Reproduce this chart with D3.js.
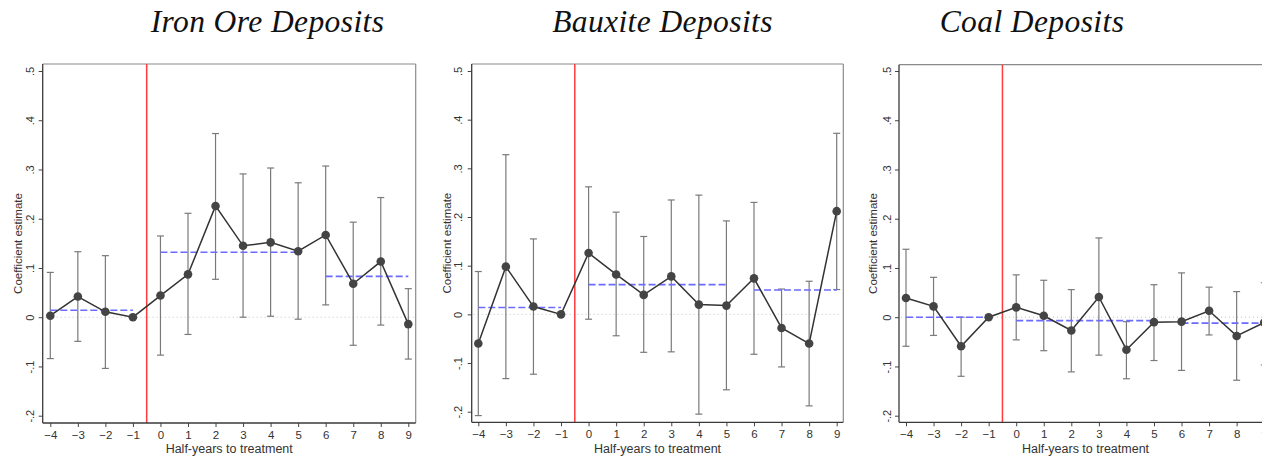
<!DOCTYPE html>
<html>
<head>
<meta charset="utf-8">
<script src="https://cdn.jsdelivr.net/npm/d3@7"></script>
<style>
  html, body { margin: 0; padding: 0; background: #fff; overflow: hidden; }
  svg { display: block; }
</style>
</head>
<body>
<svg id="chart" width="1262" height="459"></svg>
<script>
// ---- data ----
const periods = [-4, -3, -2, -1, 0, 1, 2, 3, 4, 5, 6, 7, 8, 9];
const yTickValues = [-0.2, -0.1, 0, 0.1, 0.2, 0.3, 0.4, 0.5];
const yTickLabels = ["-.2", "-.1", "0", ".1", ".2", ".3", ".4", ".5"];
const panelTitles = ["Iron Ore Deposits", "Bauxite Deposits", "Coal Deposits"];

const ironEst   = [0.003, 0.042, 0.011, 0, 0.044, 0.087, 0.226, 0.145, 0.152, 0.134, 0.167, 0.068, 0.113, -0.014];
const ironLo    = [-0.084, -0.049, -0.104, null, -0.077, -0.035, 0.077, 0.000, 0.002, -0.004, 0.025, -0.057, -0.016, -0.085];
const ironHi    = [0.091, 0.133, 0.125, null, 0.165, 0.211, 0.373, 0.291, 0.303, 0.273, 0.307, 0.193, 0.243, 0.058];
const ironAvg   = [0.014, 0.132, 0.083];

const bauxEst   = [-0.060, 0.098, 0.016, 0, 0.126, 0.082, 0.040, 0.078, 0.020, 0.018, 0.074, -0.028, -0.060, 0.212];
const bauxLo    = [-0.208, -0.132, -0.123, null, -0.010, -0.044, -0.078, -0.077, -0.205, -0.155, -0.082, -0.108, -0.188, 0.051];
const bauxHi    = [0.088, 0.328, 0.155, null, 0.262, 0.210, 0.160, 0.235, 0.245, 0.192, 0.230, 0.052, 0.068, 0.372];
const bauxAvg   = [0.014, 0.061, 0.050];

const coalEst   = [0.039, 0.022, -0.059, 0, 0.020, 0.003, -0.027, 0.041, -0.066, -0.010, -0.009, 0.013, -0.038, -0.011];
const coalLo    = [-0.059, -0.037, -0.120, null, -0.046, -0.068, -0.111, -0.077, -0.125, -0.088, -0.108, -0.036, -0.128, -0.097];
const coalHi    = [0.138, 0.081, 0.000, null, 0.086, 0.075, 0.056, 0.161, -0.009, 0.066, 0.090, 0.061, 0.052, 0.070];
const coalAvg   = [0.000, -0.007, -0.012];

// averaging windows for the dashed lines (period ranges)
const avgWindows = [[-4, -1], [0, 5], [6, 9]];
const treatmentLine = -0.5;

// ---- layout (pixels) ----
const layouts = [
  { left: 42.7, right: 415.7, top: 64, bottom: 423, xA: 50.3, xB: 408.3, yTopTick: 71, yBotTick: 415.7,
    titleX: 267.5, yLabelX: 18, yTickLabelX: 30 },
  { left: 471.7, right: 843.3, top: 64, bottom: 422.3, xA: 478.3, xB: 836.7, yTopTick: 71, yBotTick: 411.7,
    titleX: 662.5, yLabelX: 446.7, yTickLabelX: 458.3 },
  { left: 899, right: 1272, top: 64.7, bottom: 422.3, xA: 906, xB: 1264.2, yTopTick: 71, yBotTick: 415.7,
    titleX: 1032, yLabelX: 873, yTickLabelX: 886.7 }
];

const panels = [
  { title: panelTitles[0], est: ironEst, lo: ironLo, hi: ironHi, avg: ironAvg },
  { title: panelTitles[1], est: bauxEst, lo: bauxLo, hi: bauxHi, avg: bauxAvg },
  { title: panelTitles[2], est: coalEst, lo: coalLo, hi: coalHi, avg: coalAvg }
];

const svg = d3.select("#chart");
const sans = "'Liberation Sans', Arial, sans-serif";

panels.forEach((p, i) => {
  const L = layouts[i];
  const x = d3.scaleLinear().domain([-4, 9]).range([L.xA, L.xB]);
  const y = d3.scaleLinear().domain([-0.2, 0.5]).range([L.yBotTick, L.yTopTick]);
  const g = svg.append("g");

  // title
  g.append("text")
    .attr("x", L.titleX).attr("y", 32)
    .attr("text-anchor", "middle")
    .style("font-family", "'Liberation Serif', 'DejaVu Serif', serif")
    .style("font-style", "italic")
    .style("font-size", "31.5px")
    .style("letter-spacing", "0.4px")
    .style("fill", "#111")
    .text(p.title);

  // plot frame (top / right lighter)
  g.append("line").attr("x1", L.left).attr("x2", L.right).attr("y1", L.top).attr("y2", L.top)
    .attr("stroke", "#8a8a8a").attr("stroke-width", 1.2);
  g.append("line").attr("x1", L.right).attr("x2", L.right).attr("y1", L.top).attr("y2", L.bottom)
    .attr("stroke", "#8a8a8a").attr("stroke-width", 1.2);

  // zero reference line (dotted)
  g.append("line")
    .attr("x1", L.left + 2).attr("x2", L.right - 2)
    .attr("y1", y(0)).attr("y2", y(0))
    .attr("stroke", "#c4c4c4").attr("stroke-width", 1)
    .attr("stroke-dasharray", "1,3");

  // treatment line
  g.append("line")
    .attr("x1", x(treatmentLine)).attr("x2", x(treatmentLine))
    .attr("y1", L.top).attr("y2", L.bottom)
    .attr("stroke", "#ff3b3b").attr("stroke-width", 1.5);

  // confidence intervals
  const ci = periods.map((t, k) => ({ t, lo: p.lo[k], hi: p.hi[k] })).filter(d => d.lo !== null);
  const ciG = g.append("g").attr("stroke", "#7a7a7a").attr("stroke-width", 1.2).attr("fill", "none");
  ci.forEach(d => {
    ciG.append("line").attr("x1", x(d.t)).attr("x2", x(d.t)).attr("y1", y(d.lo)).attr("y2", y(d.hi));
    ciG.append("line").attr("x1", x(d.t) - 3.5).attr("x2", x(d.t) + 3.5).attr("y1", y(d.lo)).attr("y2", y(d.lo));
    ciG.append("line").attr("x1", x(d.t) - 3.5).attr("x2", x(d.t) + 3.5).attr("y1", y(d.hi)).attr("y2", y(d.hi));
  });

  // dashed averages
  avgWindows.forEach((w, k) => {
    g.append("line")
      .attr("x1", x(w[0])).attr("x2", x(w[1]))
      .attr("y1", y(p.avg[k])).attr("y2", y(p.avg[k]))
      .attr("stroke", "#6b6bff").attr("stroke-width", 1.6)
      .attr("stroke-dasharray", "7,3");
  });

  // connected estimates
  const pts = periods.map((t, k) => ({ t, v: p.est[k] }));
  g.append("path")
    .datum(pts)
    .attr("fill", "none").attr("stroke", "#333").attr("stroke-width", 1.5)
    .attr("d", d3.line().x(d => x(d.t)).y(d => y(d.v)));
  g.selectAll("circle.m").data(pts).enter().append("circle")
    .attr("cx", d => x(d.t)).attr("cy", d => y(d.v)).attr("r", 4.3)
    .attr("fill", "#444");

  // x axis
  const xAxis = d3.axisBottom(x).tickValues(periods).tickSize(4).tickSizeOuter(0).tickFormat(d3.format("d"));
  const xg = g.append("g").attr("transform", `translate(0,${L.bottom})`).call(xAxis);
  xg.select(".domain").remove();
  xg.append("line").attr("x1", L.left).attr("x2", L.right).attr("y1", 0).attr("y2", 0)
    .attr("stroke", "#3a3a3a").attr("stroke-width", 1.3);
  xg.selectAll(".tick line").attr("stroke", "#444");
  xg.selectAll(".tick text")
    .attr("y", 8)
    .style("font-family", sans).style("font-size", "11.5px").style("fill", "#333");

  // y axis
  const yAxis = d3.axisLeft(y).tickValues(yTickValues).tickSize(4).tickSizeOuter(0)
    .tickFormat((d, k) => yTickLabels[k]);
  const yg = g.append("g").attr("transform", `translate(${L.left},0)`).call(yAxis);
  yg.select(".domain").remove();
  yg.append("line").attr("x1", 0).attr("x2", 0).attr("y1", L.top).attr("y2", L.bottom)
    .attr("stroke", "#3a3a3a").attr("stroke-width", 1.3);
  yg.selectAll(".tick line").attr("stroke", "#444");
  yg.selectAll(".tick text")
    .attr("x", 0).attr("dy", null)
    .attr("transform", `translate(${L.yTickLabelX - L.left + 4},0) rotate(-90)`)
    .attr("text-anchor", "middle")
    .style("font-family", sans).style("font-size", "11px").style("fill", "#333");

  // axis titles
  g.append("text")
    .attr("x", (L.left + L.right) / 2).attr("y", 452.5)
    .attr("text-anchor", "middle")
    .style("font-family", sans).style("font-size", "12.5px").style("fill", "#333")
    .text("Half-years to treatment");
  g.append("text")
    .attr("transform", `translate(${L.yLabelX + 4},${(L.top + L.bottom) / 2}) rotate(-90)`)
    .attr("text-anchor", "middle")
    .style("font-family", sans).style("font-size", "11.5px").style("fill", "#3a3030")
    .text("Coefficient estimate");
});
</script>
</body>
</html>
